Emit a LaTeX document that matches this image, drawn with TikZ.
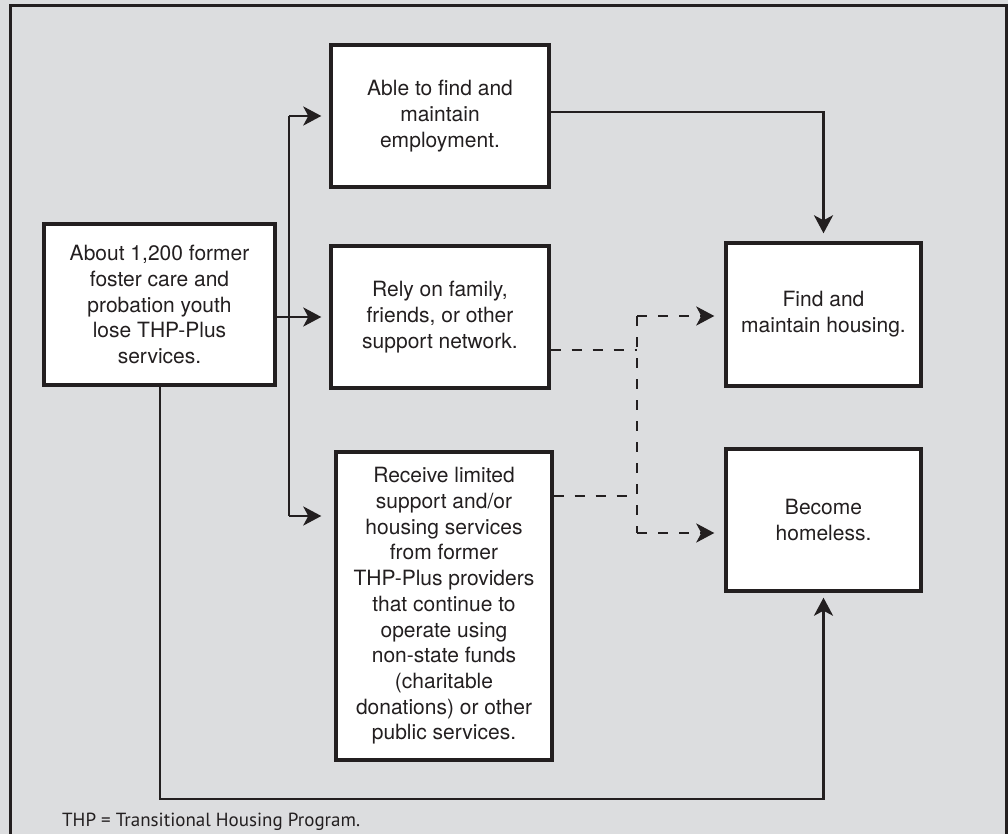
\documentclass[tikz,border=0pt]{standalone}
\usepackage{fontspec}
\setmainfont{TeX Gyre Heros}
\newfontfamily\notefont{PT Sans}
\usetikzlibrary{arrows.meta,calc}
\definecolor{bg}{HTML}{DCDDDF}
\definecolor{ink}{HTML}{231F20}
\tikzset{
  box/.style={draw=ink, fill=white, line width=3.4pt, align=center, inner sep=4pt,
    font=\fontsize{21}{25.7}\selectfont, text=ink},
  conn/.style={draw=ink, line width=2.8pt},
  tip/.style={-{Stealth[length=18pt,width=19pt,inset=5pt]}},
  arr/.style={conn, tip},
  dsh/.style={conn, line width=2.8pt, dash pattern=on 10pt off 11pt},
}
\begin{document}
\begin{tikzpicture}[x=1pt,y=-1pt]
\useasboundingbox (0,0) rectangle (1008,834);
\fill[bg] (0,0) rectangle (1008,834);
\draw[ink, line width=3.2pt] (10.5,5.5) rectangle (1006.5,850);

\node[box, minimum width=231pt, minimum height=161pt] (A) at (159.5,304.5)
  {About 1,200 former\\foster care and\\probation youth\\lose THP-Plus\\services.};
\node[box, minimum width=218pt, minimum height=142pt] (emp) at (440,116)
  {Able to find and\\maintain\\employment.};
\node[box, minimum width=218pt, minimum height=142pt] (rely) at (440,317)
  {Rely on family,\\friends, or other\\support network.};
\node[box, minimum width=216pt, minimum height=308pt] (lim) at (444,606)
  {Receive limited\\support and/or\\housing services\\from former\\THP-Plus providers\\that continue to\\operate using\\non-state funds\\(charitable\\donations) or other\\public services.};
\node[box, minimum width=195pt, minimum height=143pt] (house) at (823.5,314.5)
  {\raisebox{5pt}{\begin{tabular}{@{}c@{}}Find and\\maintain housing.\end{tabular}}};
\node[box, minimum width=195pt, minimum height=142pt] (home) at (823.5,520)
  {Become\\homeless.};

\node[anchor=west, inner sep=0pt, text=ink, font=\notefont\fontsize{19}{21}\selectfont] (note) at (62,822)
  {THP = Transitional Housing Program.};

% solid connectors
\coordinate (t1) at (289,116);
\coordinate (t3) at (289,516);
\draw[arr, shorten >=8pt] (A.east |- rely.west) -- (rely.west);
\draw[arr, shorten >=8pt] (t1) -- (emp.west);
\draw[conn] (t1) -- (t3);
\draw[arr, shorten >=13pt] (t3) -- (t3 -| lim.west);
\draw[arr, shorten >=8pt] ($(emp.east)+(0,-4)$) -| (house.north);
\coordinate (bl) at (160,799);
\draw[arr, shorten >=5pt] (A.south -| bl) -- (bl) -| (home.south);

% dashed connectors
\coordinate (jt) at (637,316);
\coordinate (jb) at (637,533);
\coordinate (d1) at ($(rely.east)+(0,33)$);
\coordinate (d2) at ($(lim.east)+(0,-110)$);
\draw[dsh] (d1) -- (d1 -| jt);
\draw[dsh] (d2) -- (d2 -| jt);
\draw[dsh] (jt) -- (jb);
\draw[dsh, tip, shorten >=10pt] (jt) -- (jt -| house.west);
\draw[dsh, tip, shorten >=10pt] (jb) -- (jb -| home.west);
\end{tikzpicture}
\end{document}
